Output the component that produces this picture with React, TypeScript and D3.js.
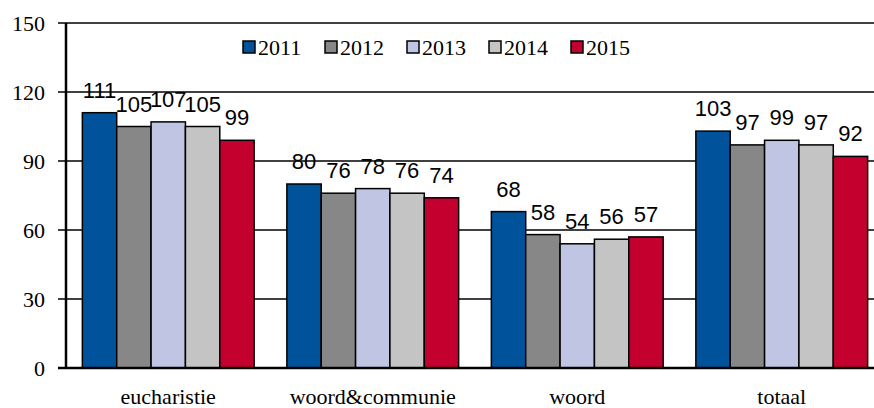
import React from 'react';
import * as d3 from 'd3';

const categories = ['eucharistie', 'woord&communie', 'woord', 'totaal'];
const years = ['2011', '2012', '2013', '2014', '2015'];
const values2011 = [111, 80, 68, 103];
const values2012 = [105, 76, 58, 97];
const values2013 = [107, 78, 54, 99];
const values2014 = [105, 76, 56, 97];
const values2015 = [99, 74, 57, 92];
const yTicks = [0, 30, 60, 90, 120, 150];

const seriesValues = [values2011, values2012, values2013, values2014, values2015];
const colors = ['#00529b', '#878787', '#bfc5e3', '#c4c4c4', '#c4002f'];

const width = 874;
const height = 408;
const margin = { top: 23, right: -10, bottom: 40, left: 66 };

const serif = "'Liberation Serif', 'DejaVu Serif', serif";
const sans = "'Liberation Sans', Arial, sans-serif";

const App: React.FC = () => {
  const x = d3
    .scaleBand<string>()
    .domain(categories)
    .range([margin.left, width - margin.right])
    .paddingInner(0.16)
    .paddingOuter(0.08);
  const xi = d3.scaleBand<string>().domain(years).range([0, x.bandwidth()]);
  const y = d3.scaleLinear().domain([0, 150]).range([height - margin.bottom, margin.top]);

  return (
    <svg
      width={width}
      height={height}
      style={{ position: 'absolute', left: 0, top: 0, background: '#fff' }}
    >
      {/* gridlines */}
      {yTicks.filter((t) => t > 0).map((t) => (
        <line
          key={'g' + t}
          x1={margin.left}
          x2={width}
          y1={y(t)}
          y2={y(t)}
          stroke="#000"
          strokeWidth={1.5}
        />
      ))}

      {/* y ticks and labels */}
      {yTicks.map((t) => (
        <g key={'t' + t}>
          <line x1={margin.left - 8} x2={margin.left} y1={y(t)} y2={y(t)} stroke="#000" strokeWidth={1.5} />
          <text
            x={margin.left - 21}
            y={y(t)}
            dy="0.35em"
            textAnchor="end"
            fontFamily={serif}
            fontSize={22}
            fill="#000"
          >
            {t}
          </text>
        </g>
      ))}

      {/* bars */}
      {categories.map((c, ci) => (
        <g key={c} transform={`translate(${x(c)},0)`}>
          {years.map((yr, si) => {
            const v = seriesValues[si][ci];
            return (
              <rect
                key={yr}
                x={xi(yr)}
                y={y(v)}
                width={xi.bandwidth()}
                height={y(0) - y(v)}
                fill={colors[si]}
                stroke="#000"
                strokeWidth={1.5}
              />
            );
          })}
        </g>
      ))}

      {/* value labels */}
      {categories.map((c, ci) => (
        <g key={'l' + c} transform={`translate(${x(c)},0)`}>
          {years.map((yr, si) => {
            const v = seriesValues[si][ci];
            return (
              <text
                key={yr}
                x={(xi(yr) ?? 0) + xi.bandwidth() / 2}
                y={y(v) - 15}
                textAnchor="middle"
                fontFamily={sans}
                fontSize={22}
                fill="#000"
              >
                {v}
              </text>
            );
          })}
        </g>
      ))}

      {/* axes */}
      <line x1={margin.left} x2={margin.left} y1={y(150)} y2={y(0) + 1} stroke="#000" strokeWidth={2.5} />
      <line x1={margin.left - 8} x2={width} y1={y(0)} y2={y(0)} stroke="#000" strokeWidth={2.5} />

      {/* category labels */}
      {categories.map((c) => (
        <text
          key={'c' + c}
          x={(x(c) ?? 0) + x.bandwidth() / 2}
          y={404}
          textAnchor="middle"
          fontFamily={serif}
          fontSize={22}
          fill="#000"
        >
          {c}
        </text>
      ))}

      {/* legend */}
      {years.map((yr, i) => (
        <g key={'lg' + yr} transform={`translate(${243 + i * 82},47)`}>
          <rect x={0} y={-6} width={12} height={12} fill={colors[i]} stroke="#000" strokeWidth={1.5} />
          <text x={15} y={0} dy="0.35em" fontFamily={serif} fontSize={22} fill="#000">
            {yr}
          </text>
        </g>
      ))}
    </svg>
  );
};

export default App;
